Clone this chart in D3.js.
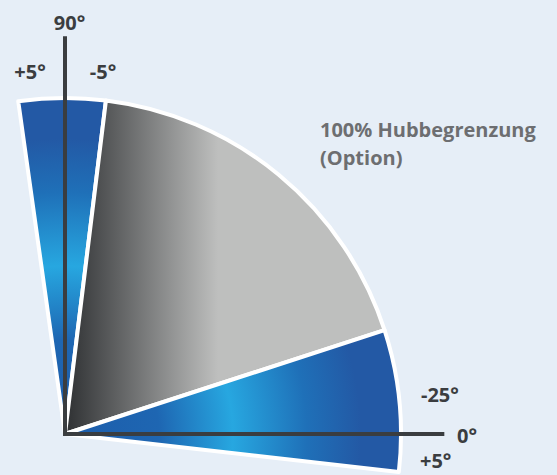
<!DOCTYPE html>
<html>
<head>
<meta charset="utf-8">
<script src="https://cdn.jsdelivr.net/npm/d3@7"></script>
<style>
  html, body { margin: 0; padding: 0; background: #e6eef7; }
  svg { display: block; }
  text { font-family: "Open Sans", sans-serif; font-weight: bold; }
</style>
</head>
<body>
<div id="chart"></div>
<script>
// Sectors (angles in degrees, counter-clockwise from the 0° axis)
const sectorNames = ["top", "stroke", "bottom"];
const sectorFrom = [83, 18, -6.5];
const sectorTo = [98, 83, 18];
const sectorReach = [100, 100, 100]; // percent of stroke
const sectorFill = ["blue", "gray", "blue"];

// Axis lines
const axisAngles = [0, 90];
const axisReach = [112.3, 117.8];

// Labels
const angleLabels = ["90°", "+5°", "-5°", "-25°", "0°", "+5°"];
const noteLines = ["100% Hubbegrenzung", "(Option)"];

const width = 557, height = 475;
const origin = { x: 65, y: 434 };

const svg = d3.select("#chart").append("svg")
  .attr("width", width)
  .attr("height", height);

svg.append("rect")
  .attr("width", width)
  .attr("height", height)
  .attr("fill", "#e6eef7");

// Scales
const r = d3.scaleLinear().domain([0, 100]).range([0, 336]);
const a = d3.scaleLinear().domain([0, 90]).range([Math.PI / 2, 0]); // d3.arc angle

const defs = svg.append("defs");

// gradients live in the translated group's coordinates (origin at 0,0)
const blue = defs.append("radialGradient")
  .attr("id", "blue")
  .attr("gradientUnits", "userSpaceOnUse")
  .attr("cx", 0).attr("cy", 0).attr("r", r(100));
[[0, "#1d5dab"], [0.28, "#1e66b2"], [0.5, "#27a7e0"], [0.72, "#1f70b8"], [0.88, "#2359a5"], [1, "#2359a5"]]
  .forEach(s => blue.append("stop").attr("offset", s[0]).attr("stop-color", s[1]));

const gray = defs.append("linearGradient")
  .attr("id", "gray")
  .attr("gradientUnits", "userSpaceOnUse")
  .attr("x1", 5).attr("x2", 153)
  .attr("y1", 0).attr("y2", 0);
[[0, "#333537"], [1, "#bebfbe"]]
  .forEach(s => gray.append("stop").attr("offset", s[0]).attr("stop-color", s[1]));

const g = svg.append("g")
  .attr("transform", `translate(${origin.x},${origin.y})`);

const arc = d3.arc()
  .innerRadius(0)
  .outerRadius(i => r(sectorReach[i]))
  .startAngle(i => a(sectorTo[i]))
  .endAngle(i => a(sectorFrom[i]));

g.selectAll("path.sector")
  .data(sectorNames.map((d, i) => i))
  .enter().append("path")
  .attr("class", "sector")
  .attr("d", arc)
  .attr("fill", i => `url(#${sectorFill[i]})`)
  .attr("stroke", "#fff")
  .attr("stroke-width", 4)
  .attr("stroke-linejoin", "round");

// Axes
g.selectAll("line.axis")
  .data(axisAngles.map((d, i) => i))
  .enter().append("line")
  .attr("class", "axis")
  .attr("x1", 0).attr("y1", 0)
  .attr("x2", i => r(axisReach[i]) * Math.cos(axisAngles[i] * Math.PI / 180))
  .attr("y2", i => -r(axisReach[i]) * Math.sin(axisAngles[i] * Math.PI / 180))
  .attr("stroke", "#3a3d40")
  .attr("stroke-width", 4)
  .attr("stroke-linecap", "square");

// Angle labels
const labelPos = [
  { x: 69.5, y: 30, anchor: "middle" },
  { x: 30, y: 79, anchor: "middle" },
  { x: 103, y: 79, anchor: "middle" },
  { x: 421, y: 402, anchor: "start" },
  { x: 457, y: 443, anchor: "start" },
  { x: 420, y: 468, anchor: "start" }
];

svg.selectAll("text.angle")
  .data(angleLabels)
  .enter().append("text")
  .attr("class", "angle")
  .attr("x", (d, i) => labelPos[i].x)
  .attr("y", (d, i) => labelPos[i].y)
  .attr("text-anchor", (d, i) => labelPos[i].anchor)
  .attr("font-size", 20)
  .attr("fill", "#3b3d40")
  .text(d => d);

// Note
svg.selectAll("text.note")
  .data(noteLines)
  .enter().append("text")
  .attr("class", "note")
  .attr("x", 320)
  .attr("y", (d, i) => 137 + i * 28)
  .attr("font-size", 20)
  .attr("fill", "#6d6e71")
  .text(d => d);
</script>
</body>
</html>
